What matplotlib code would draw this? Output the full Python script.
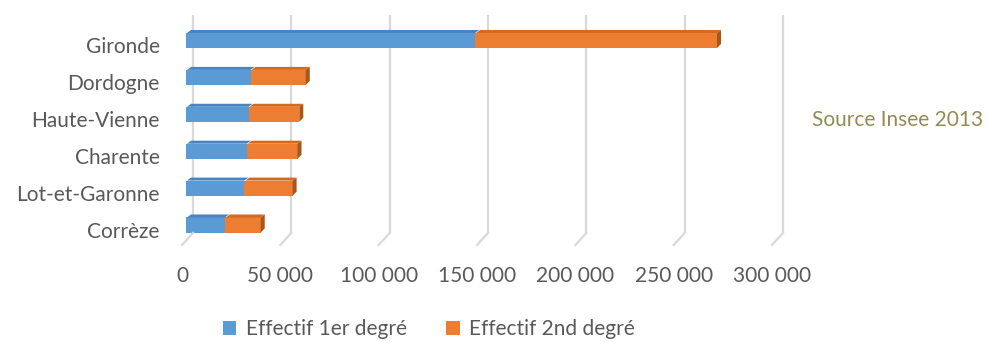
import matplotlib
matplotlib.use("Agg")
import matplotlib.pyplot as plt
from matplotlib.patches import Polygon, Patch
from matplotlib.lines import Line2D
from matplotlib.transforms import ScaledTranslation, IdentityTransform, offset_copy

# ---- data ----
departements = ["Gironde", "Dordogne", "Haute-Vienne", "Charente", "Lot-et-Garonne", "Corrèze"]
effectif_1er = [147000, 32800, 31800, 30900, 29700, 19800]
effectif_2nd = [123000, 28100, 25800, 25800, 24500, 18200]
x_ticks = [0, 50000, 100000, 150000, 200000, 250000, 300000]
x_tick_labels = ["0", "50 000", "100 000", "150 000", "200 000", "250 000", "300 000"]
series_names = ["Effectif 1er degré", "Effectif 2nd degré"]
source_text = "Source Insee 2013"

# ---- style ----
FONT = "Lato"
FS = 15
TXT = "#595959"
BLUE, BLUE_TOP = "#5B9BD5", "#4A84BE"
ORANGE, ORANGE_TOP, ORANGE_SIDE = "#ED7D31", "#D5691F", "#A9561A"
GRID = "#D9D9D9"

W, H, DPI = 990, 342, 100
fig = plt.figure(figsize=(W / DPI, H / DPI), dpi=DPI)
ax = fig.add_axes([186 / W, 109 / H, 590 / W, 218 / H])
ax.set_xlim(0, 300000)
ax.set_ylim(-0.217, 5.691)
for s in ax.spines.values():
    s.set_visible(False)

n = len(departements)
ypos = list(range(n - 1, -1, -1))
bh = 0.407
b1 = ax.barh(ypos, effectif_1er, height=bh, color=BLUE, zorder=3)
b2 = ax.barh(ypos, effectif_2nd, left=effectif_1er, height=bh, color=ORANGE, zorder=3)

# pseudo-3D faces
fig.canvas.draw()
dx, dy = 4, 3
def faces(rect, top_col, side_col=None):
    (x0, y0), (x1, y1) = ax.transData.transform([(rect.get_x(), rect.get_y()),
                                                 (rect.get_x() + rect.get_width(), rect.get_y() + rect.get_height())])
    top = Polygon([(x0 + 1, y1), (x1, y1), (x1 + dx, y1 + dy), (x0 + dx + 1, y1 + dy)],
                  closed=True, transform=IdentityTransform(), facecolor=top_col, edgecolor="none", zorder=4)
    fig.add_artist(top)
    if side_col:
        side = Polygon([(x1, y0), (x1, y1), (x1 + dx, y1 + dy), (x1 + dx, y0 + dy + 1)],
                       closed=True, transform=IdentityTransform(), facecolor=side_col, edgecolor="none", zorder=4)
        fig.add_artist(side)
for r in b1.patches:
    faces(r, BLUE_TOP)
for r in b2.patches:
    faces(r, ORANGE_TOP, ORANGE_SIDE)

# back-wall gridlines and floor diagonals
back = offset_copy(ax.get_xaxis_transform(), fig, x=7, y=0, units="dots")
ax.vlines(x_ticks, 0, 1, transform=back, colors=GRID, linewidth=1.6, zorder=1, clip_on=False)
for xt in x_ticks:
    (px, py) = ax.get_xaxis_transform().transform((xt, 0))
    fig.add_artist(Line2D([px + 7, px - 4], [py, py - 12], transform=IdentityTransform(),
                          color=GRID, linewidth=1.6, zorder=1))

# ticks
ax.set_xticks(x_ticks)
ax.set_xticklabels(x_tick_labels)
ax.set_yticks(ypos)
ax.set_yticklabels(departements)
ax.tick_params(axis="x", length=0, pad=24, labelsize=FS, labelcolor=TXT)
ax.tick_params(axis="y", length=0, pad=19, labelsize=FS, labelcolor=TXT)
for lab in ax.get_xticklabels() + ax.get_yticklabels():
    lab.set_fontfamily(FONT)
for lab in ax.get_xticklabels():
    lab.set_transform(lab.get_transform() + ScaledTranslation(-4 / DPI, 0, fig.dpi_scale_trans))
for lab in ax.get_yticklabels():
    lab.set_transform(lab.get_transform() + ScaledTranslation(0, -5 / DPI, fig.dpi_scale_trans))

# legend
handles = [Patch(facecolor=BLUE, label=series_names[0]), Patch(facecolor=ORANGE, label=series_names[1])]
fig.legend(handles=handles, loc="center", bbox_to_anchor=(429 / W, 13 / H), ncol=2, frameon=False,
           handlelength=0.65, handleheight=0.65, handletextpad=0.45, columnspacing=1.9,
           borderpad=0.1, prop={"family": FONT, "size": FS}, labelcolor=TXT)

fig.text(812 / W, 1 - 120 / H, source_text, ha="left", va="center", family=FONT, fontsize=FS, color="#948A54")

fig.savefig("out.png", dpi=DPI)
